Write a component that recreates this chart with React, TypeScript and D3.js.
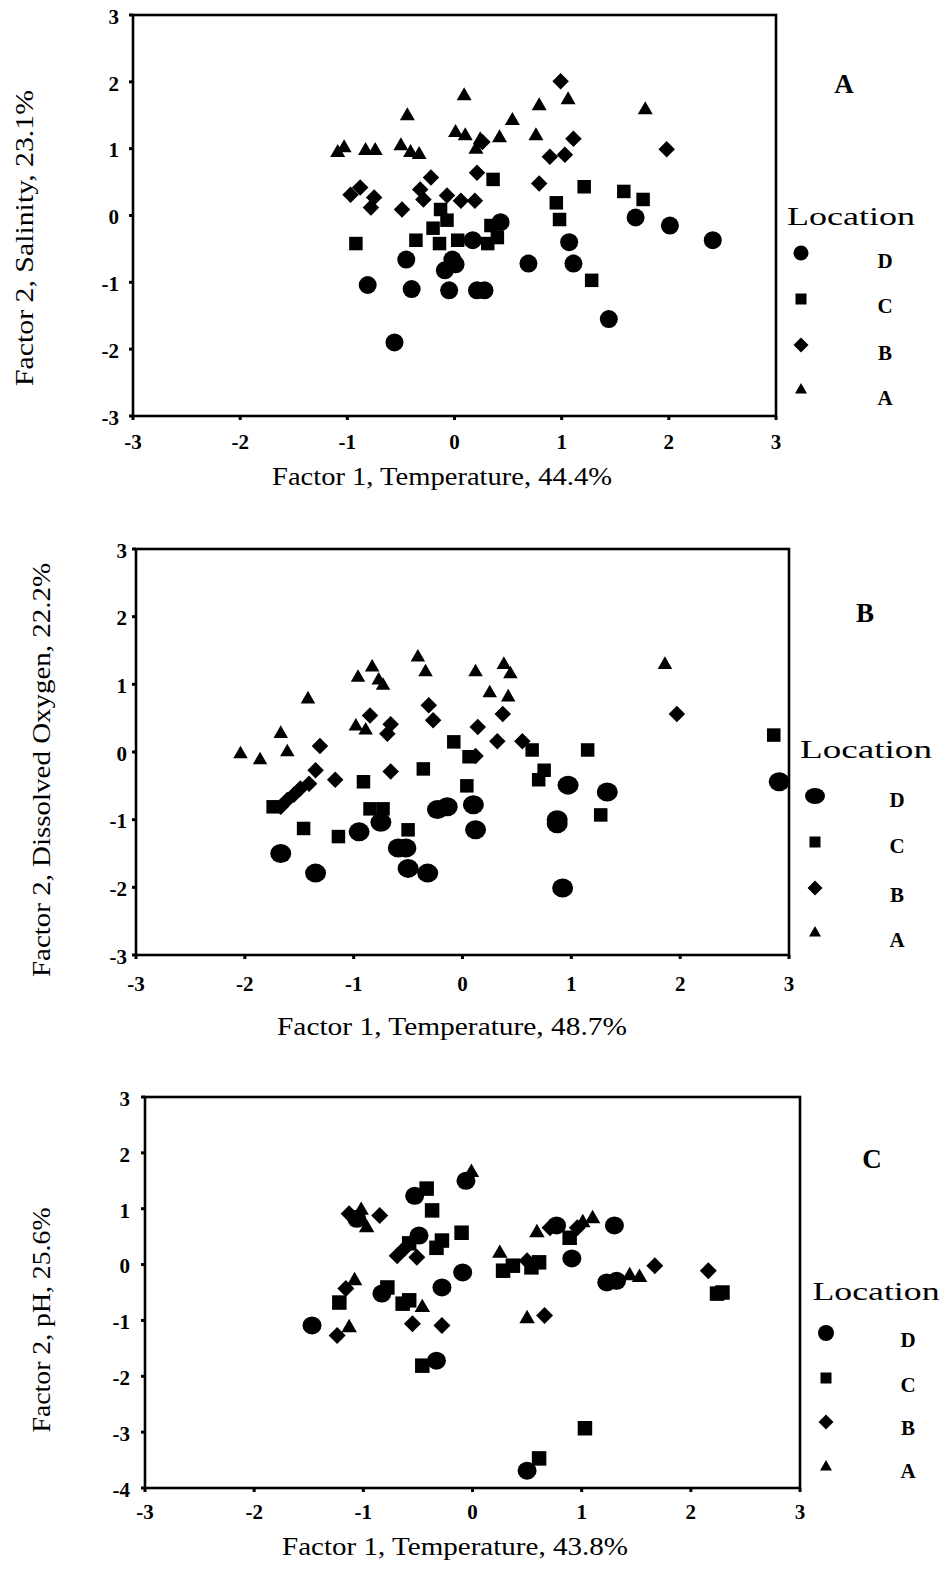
import React from "react";
import * as d3 from "d3";

// ---------- data (factor scores) ----------
type Pt = [number, number];

// Panel A: Factor 1 Temperature 44.4% vs Factor 2 Salinity 23.1%
const panelA_D: Pt[] = [
  [0.43, -0.10], [1.69, -0.03], [2.01, -0.15], [2.41, -0.37], [1.07, -0.40], [1.11, -0.72],
  [0.69, -0.72], [1.44, -1.55], [-0.45, -0.66], [-0.02, -0.66], [0.01, -0.73], [-0.09, -0.82],
  [-0.81, -1.04], [-0.40, -1.10], [-0.05, -1.12], [0.21, -1.12], [0.28, -1.12], [-0.56, -1.90],
  [0.17, -0.37],
];
const panelA_C: Pt[] = [
  [0.36, 0.54], [1.21, 0.43], [1.58, 0.36], [1.76, 0.24], [0.95, 0.19], [0.98, -0.06],
  [1.28, -0.97], [-0.92, -0.42], [-0.36, -0.37], [-0.13, 0.09], [-0.07, -0.07], [-0.20, -0.19],
  [-0.14, -0.42], [0.03, -0.37], [0.31, -0.42], [0.40, -0.33], [0.34, -0.15],
];
const panelA_B: Pt[] = [
  [0.99, 2.01], [1.11, 1.15], [0.89, 0.88], [1.03, 0.91], [1.98, 0.99], [0.79, 0.48],
  [0.26, 1.10], [0.21, 0.64], [-0.22, 0.57], [-0.32, 0.39], [-0.29, 0.24], [-0.97, 0.31],
  [-0.88, 0.42], [-0.75, 0.27], [-0.78, 0.12], [-0.49, 0.09], [-0.07, 0.30], [0.06, 0.22],
  [0.19, 0.22],
];
const panelA_A: Pt[] = [
  [-1.09, 0.94], [-1.03, 1.01], [-0.83, 0.97], [-0.74, 0.97], [-0.44, 1.49], [-0.50, 1.04],
  [-0.41, 0.94], [-0.33, 0.91], [0.09, 1.79], [0.01, 1.24], [0.10, 1.19], [0.24, 1.13],
  [0.20, 0.99], [0.42, 1.16], [0.54, 1.42], [0.79, 1.64], [0.76, 1.19], [1.06, 1.73],
  [1.78, 1.58],
];

// Panel B: Factor 1 Temperature 48.7% vs Factor 2 Dissolved Oxygen 22.2%
const panelB_D: Pt[] = [
  [-1.67, -1.50], [-1.35, -1.79], [-0.95, -1.18], [-0.75, -1.04], [-0.59, -1.42], [-0.52, -1.42],
  [-0.50, -1.72], [-0.32, -1.79], [-0.23, -0.85], [-0.14, -0.81], [0.10, -0.78], [0.12, -1.15],
  [0.97, -0.49], [1.33, -0.59], [0.87, -1.00], [0.87, -1.06], [0.92, -2.01], [2.91, -0.44],
];
const panelB_C: Pt[] = [
  [-1.74, -0.81], [-1.46, -1.13], [-1.14, -1.25], [-0.91, -0.44], [-0.85, -0.84], [-0.73, -0.84],
  [-0.50, -1.15], [-0.36, -0.25], [-0.08, 0.15], [0.06, -0.07], [0.04, -0.50], [0.64, 0.03],
  [1.15, 0.03], [0.75, -0.27], [0.70, -0.41], [1.27, -0.93], [2.86, 0.25],
];
const panelB_B: Pt[] = [
  [-1.31, 0.09], [-1.35, -0.27], [-1.17, -0.41], [-1.41, -0.47], [-1.49, -0.54], [-1.55, -0.63],
  [-1.61, -0.71], [-1.67, -0.81], [-0.85, 0.54], [-0.66, 0.41], [-0.69, 0.27], [-0.66, -0.29],
  [-0.31, 0.69], [-0.27, 0.47], [0.14, 0.37], [0.37, 0.56], [0.32, 0.16], [0.55, 0.16],
  [0.12, -0.06], [1.97, 0.56],
];
const panelB_A: Pt[] = [
  [-2.04, -0.03], [-1.86, -0.12], [-1.67, 0.27], [-1.61, 0.0], [-1.42, 0.78], [-0.96, 1.10],
  [-0.83, 1.25], [-0.77, 1.06], [-0.73, 0.98], [-0.98, 0.38], [-0.89, 0.32], [-0.41, 1.40],
  [-0.34, 1.18], [0.12, 1.18], [0.38, 1.29], [0.44, 1.15], [0.25, 0.87], [0.42, 0.81],
  [1.86, 1.29],
];

// Panel C: Factor 1 Temperature 43.8% vs Factor 2 pH 25.6%
const panelC_D: Pt[] = [
  [-1.47, -1.09], [-0.83, -0.52], [-0.28, -0.41], [-0.09, -0.14], [-0.33, -1.72], [-0.49, 0.52],
  [-1.06, 0.82], [-0.53, 1.23], [-0.06, 1.50], [0.91, 0.11], [0.77, 0.70], [1.30, 0.70],
  [1.23, -0.32], [1.32, -0.29], [0.50, -3.69],
];
const panelC_C: Pt[] = [
  [-1.22, -0.68], [-0.78, -0.41], [-0.58, -0.64], [-0.64, -0.70], [-0.46, -1.81], [-0.58, 0.38],
  [-0.28, 0.43], [-0.10, 0.57], [-0.33, 0.30], [-0.42, 1.36], [-0.37, 0.97], [0.28, -0.11],
  [0.37, -0.02], [0.61, 0.04], [0.54, -0.05], [0.89, 0.48], [2.24, -0.52], [2.29, -0.50],
  [1.03, -2.93], [0.61, -3.47],
];
const panelC_B: Pt[] = [
  [-1.24, -1.27], [-1.16, -0.43], [-0.55, -1.06], [-0.28, -1.09], [-0.69, 0.16], [-0.51, 0.13],
  [-0.62, 0.29], [-1.13, 0.91], [-0.85, 0.88], [0.50, 0.07], [0.71, 0.66], [0.96, 0.66],
  [1.67, -0.02], [2.16, -0.11], [0.66, -0.91],
];
const panelC_A: Pt[] = [
  [-1.13, -1.13], [-1.08, -0.29], [-0.46, -0.77], [-0.97, 0.66], [-1.02, 0.97], [-0.01, 1.65],
  [0.25, 0.20], [0.59, 0.57], [1.10, 0.82], [1.01, 0.75], [1.44, -0.20], [1.53, -0.23],
  [0.50, -0.97],
];

const xTicks = [-3, -2, -1, 0, 1, 2, 3];
const yTicksAB = [-3, -2, -1, 0, 1, 2, 3];
const yTicksC = [-4, -3, -2, -1, 0, 1, 2, 3];
const legendLabels = ["D", "C", "B", "A"];
const panelNames = ["A", "B", "C"];
const xTitles = ["Factor 1, Temperature, 44.4%", "Factor 1, Temperature, 48.7%", "Factor 1, Temperature, 43.8%"];
const yTitles = ["Factor 2, Salinity, 23.1%", "Factor 2, Dissolved Oxygen, 22.2%", "Factor 2, pH, 25.6%"];

// ---------- layout ----------
const FONT = "'Liberation Serif', 'Times New Roman', serif";

type PanelCfg = {
  name: string;
  series: Pt[][]; // D, C, B, A
  yTicks: number[];
  yDomain: [number, number];
  xRange: [number, number];
  yRange: [number, number];
  xTitle: string; xTitleX: number; xTitleY: number; xTitleLen: number;
  yTitle: string; yTitleX: number; yTitleY: number; yTitleLen: number;
  yLabelX: number; xLabelY: number;
  circ: [number, number]; sq: number; dia: number; tri: number;
  nameX: number; nameY: number;
  locX: number; locY: number; locLen: number;
  legSymX: number; legSymY: number[]; legTxtX: number; legTxtY: number[];
  legCirc: [number, number];
};

const panels: PanelCfg[] = [
  {
    name: panelNames[0], series: [panelA_D, panelA_C, panelA_B, panelA_A],
    yTicks: yTicksAB, yDomain: [-3, 3], xRange: [133, 776], yRange: [416, 15],
    xTitle: xTitles[0], xTitleX: 442, xTitleY: 485, xTitleLen: 340,
    yTitle: yTitles[0], yTitleX: 33, yTitleY: 238, yTitleLen: 296,
    yLabelX: 119, xLabelY: 449,
    circ: [9, 9], sq: 13.5, dia: 16.5, tri: 15,
    nameX: 844, nameY: 93,
    locX: 851, locY: 225, locLen: 128,
    legSymX: 801, legSymY: [253, 299, 345, 390], legTxtX: 885, legTxtY: [268, 313, 360, 405],
    legCirc: [7.5, 7.5],
  },
  {
    name: panelNames[1], series: [panelB_D, panelB_C, panelB_B, panelB_A],
    yTicks: yTicksAB, yDomain: [-3, 3], xRange: [136, 789], yRange: [955, 549],
    xTitle: xTitles[1], xTitleX: 452, xTitleY: 1035, xTitleLen: 350,
    yTitle: yTitles[1], yTitleX: 50, yTitleY: 770, yTitleLen: 414,
    yLabelX: 127, xLabelY: 991,
    circ: [10.5, 9.5], sq: 13.5, dia: 16.5, tri: 14.5,
    nameX: 865, nameY: 622,
    locX: 866, locY: 758, locLen: 132,
    legSymX: 815, legSymY: [796, 842, 888, 933], legTxtX: 897, legTxtY: [807, 853, 902, 947],
    legCirc: [10, 8],
  },
  {
    name: panelNames[2], series: [panelC_D, panelC_C, panelC_B, panelC_A],
    yTicks: yTicksC, yDomain: [-4, 3], xRange: [145, 800], yRange: [1488, 1097],
    xTitle: xTitles[2], xTitleX: 455, xTitleY: 1555, xTitleLen: 346,
    yTitle: yTitles[2], yTitleX: 50, yTitleY: 1320, yTitleLen: 225,
    yLabelX: 130, xLabelY: 1519,
    circ: [9.5, 9], sq: 14.5, dia: 17, tri: 15.5,
    nameX: 872, nameY: 1168,
    locX: 876, locY: 1300, locLen: 127,
    legSymX: 826, legSymY: [1333, 1378, 1422, 1467], legTxtX: 908, legTxtY: [1347, 1392, 1435, 1478],
    legCirc: [8, 8],
  },
];

function Marker({ kind, x, y, circ, sq, dia, tri }: { kind: number; x: number; y: number; circ: [number, number]; sq: number; dia: number; tri: number }) {
  if (kind === 0) return <ellipse cx={x} cy={y} rx={circ[0]} ry={circ[1]} fill="#000" />;
  if (kind === 1) {
    const p = d3.symbol().type(d3.symbolSquare).size(sq * sq)();
    return <path d={p || ""} transform={`translate(${x},${y})`} fill="#000" />;
  }
  if (kind === 2) {
    const side = dia / Math.SQRT2;
    const p = d3.symbol().type(d3.symbolSquare).size(side * side)();
    return <path d={p || ""} transform={`translate(${x},${y}) rotate(45)`} fill="#000" />;
  }
  const area = (Math.sqrt(3) / 4) * tri * tri;
  const p = d3.symbol().type(d3.symbolTriangle).size(area)();
  return <path d={p || ""} transform={`translate(${x},${y})`} fill="#000" />;
}

function Panel({ c }: { c: PanelCfg }) {
  const x = d3.scaleLinear().domain([-3, 3]).range(c.xRange);
  const y = d3.scaleLinear().domain(c.yDomain).range(c.yRange);
  const [x0, x1] = c.xRange;
  const [yb, yt] = c.yRange;
  return (
    <g>
      {/* frame */}
      <rect x={x0} y={yt} width={x1 - x0} height={yb - yt} fill="none" stroke="#000" strokeWidth={2.6} />
      {/* y ticks */}
      {c.yTicks.map((t) => (
        <g key={"y" + t}>
          <line x1={x0 - 4} x2={x0} y1={y(t)} y2={y(t)} stroke="#000" strokeWidth={3} />
          <text x={c.yLabelX} y={y(t) + 4} textAnchor="end" dominantBaseline="middle"
            fontFamily={FONT} fontWeight="bold" fontSize={21}>{t}</text>
        </g>
      ))}
      {/* x ticks */}
      {xTicks.map((t) => (
        <g key={"x" + t}>
          <line x1={x(t)} x2={x(t)} y1={yb} y2={yb + 4} stroke="#000" strokeWidth={3} />
          <text x={x(t)} y={c.xLabelY} textAnchor="middle"
            fontFamily={FONT} fontWeight="bold" fontSize={21}>{t}</text>
        </g>
      ))}
      {/* titles */}
      <text x={c.xTitleX} y={c.xTitleY} textAnchor="middle" fontFamily={FONT} fontSize={25}
        textLength={c.xTitleLen} lengthAdjust="spacingAndGlyphs">{c.xTitle}</text>
      <text transform={`translate(${c.yTitleX},${c.yTitleY}) rotate(-90)`} textAnchor="middle"
        fontFamily={FONT} fontSize={25} textLength={c.yTitleLen} lengthAdjust="spacingAndGlyphs">{c.yTitle}</text>
      {/* points: draw A, B, C, D order so circles on top */}
      {[3, 2, 1, 0].map((k) =>
        c.series[k].map((p, i) => (
          <Marker key={k + "-" + i} kind={k} x={x(p[0])} y={y(p[1])} circ={c.circ} sq={c.sq} dia={c.dia} tri={c.tri} />
        ))
      )}
      {/* panel name */}
      <text x={c.nameX} y={c.nameY} textAnchor="middle" fontFamily={FONT} fontWeight="bold" fontSize={27}>{c.name}</text>
      {/* legend */}
      <text x={c.locX} y={c.locY} textAnchor="middle" fontFamily={FONT} fontSize={25}
        textLength={c.locLen} lengthAdjust="spacingAndGlyphs">Location</text>
      {legendLabels.map((lab, k) => (
        <g key={"leg" + k}>
          <Marker kind={k} x={c.legSymX} y={c.legSymY[k]} circ={c.legCirc} sq={11} dia={15} tri={12} />
          <text x={c.legTxtX} y={c.legTxtY[k]} textAnchor="middle" fontFamily={FONT} fontWeight="bold" fontSize={21}>{lab}</text>
        </g>
      ))}
    </g>
  );
}

export default function App() {
  return (
    <svg width={948} height={1570} viewBox="0 0 948 1570"
      style={{ position: "absolute", left: 0, top: 0, background: "#fff" }}>
      <rect x={0} y={0} width={948} height={1570} fill="#fff" />
      {panels.map((c) => <Panel key={c.name} c={c} />)}
    </svg>
  );
}
